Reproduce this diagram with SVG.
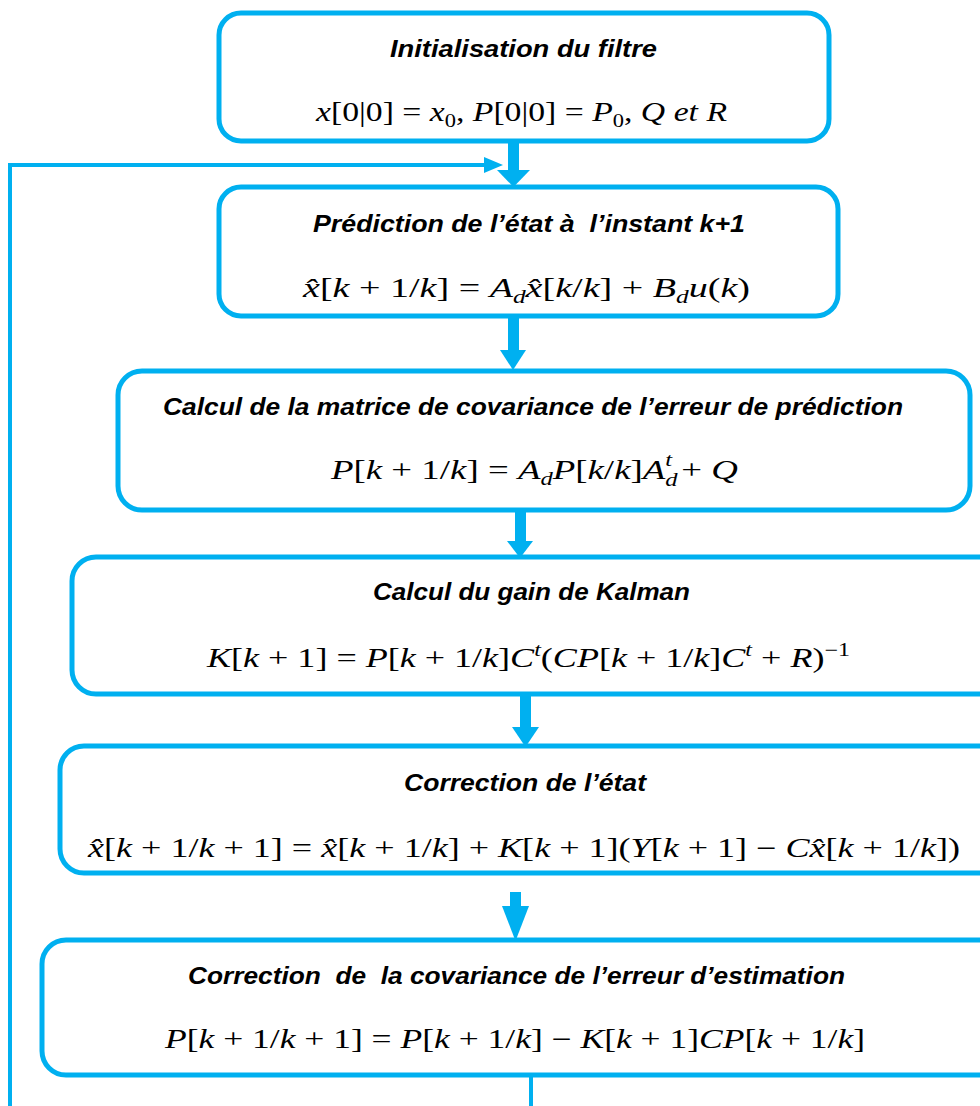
<svg xmlns="http://www.w3.org/2000/svg" width="980" height="1106" viewBox="0 0 980 1106">
<style>
.box{fill:#fff;stroke:#00B0F0;stroke-width:5}
.t{font-family:"Liberation Sans",Arial,sans-serif;font-weight:bold;font-style:italic;font-size:23px;fill:#000;white-space:pre}
.f{font-family:"Liberation Serif","Times New Roman",serif;font-size:27px;fill:#000}
.i{font-style:italic}
.s{font-size:18px;font-style:italic}
.sn{font-size:18px}
.ar{fill:#00B0F0}
.ln{stroke:#00B0F0;stroke-width:4;fill:none}
</style>
<rect width="980" height="1106" fill="#fff"/>
<g id="connectors">
<rect class="ar" x="508" y="141" width="11" height="30"/><polygon class="ar" points="497,170 530,170 513.5,187"/>
<rect class="ar" x="508" y="316" width="11" height="36"/><polygon class="ar" points="500,350 526,350 513,370"/>
<rect class="ar" x="515" y="510" width="11" height="33"/><polygon class="ar" points="507,541 533,541 520,558"/>
<rect class="ar" x="520" y="694" width="11" height="35"/><polygon class="ar" points="512,727 539,727 525.5,747"/>
<rect class="ar" x="510" y="892" width="11" height="16"/><polygon class="ar" points="502,906 529,906 515.5,941"/>
<polyline class="ln" points="531,1075 531,1106"/>
<polyline class="ln" points="10,1106 10,165 488,165"/>
<polygon class="ar" points="484,157 503,165 484,173"/>
</g>
<g id="n1">
<rect class="box" x="219" y="13" width="610" height="128" rx="22"/>
<text class="t" x="390" y="57" textLength="267" lengthAdjust="spacingAndGlyphs">Initialisation du filtre</text>
<text class="f" x="316" y="121" textLength="411" lengthAdjust="spacingAndGlyphs"><tspan class="i">x</tspan>[0|0] = <tspan class="i">x</tspan><tspan class="sn" dy="6">0</tspan><tspan dy="-6">, </tspan><tspan class="i">P</tspan>[0|0] = <tspan class="i">P</tspan><tspan class="sn" dy="6">0</tspan><tspan dy="-6">, </tspan><tspan class="i">Q et R</tspan></text>
</g>
<g id="n2">
<rect class="box" x="219" y="187" width="619" height="129" rx="22"/>
<text class="t" x="313" y="232" textLength="432" lengthAdjust="spacingAndGlyphs" xml:space="preserve">Prédiction de l’état à  l’instant k+1</text>
<text class="f" x="303" y="297" textLength="447" lengthAdjust="spacingAndGlyphs"><tspan class="i">x̂</tspan>[<tspan class="i">k</tspan> + 1/<tspan class="i">k</tspan>] = <tspan class="i">A</tspan><tspan class="s" dy="6">d</tspan><tspan class="i" dy="-6">x̂</tspan>[<tspan class="i">k</tspan>/<tspan class="i">k</tspan>] + <tspan class="i">B</tspan><tspan class="s" dy="6">d</tspan><tspan class="i" dy="-6">u</tspan>(<tspan class="i">k</tspan>)</text>
</g>
<g id="n3">
<rect class="box" x="118" y="371" width="852" height="139" rx="24"/>
<text class="t" x="163" y="415" textLength="740" lengthAdjust="spacingAndGlyphs">Calcul de la matrice de covariance de l’erreur de prédiction</text>
<text class="f" x="331" y="479" textLength="407" lengthAdjust="spacingAndGlyphs"><tspan class="i">P</tspan>[<tspan class="i">k</tspan> + 1/<tspan class="i">k</tspan>] = <tspan class="i">A</tspan><tspan class="s" dy="6">d</tspan><tspan class="i" dy="-6">P</tspan>[<tspan class="i">k</tspan>/<tspan class="i">k</tspan>]<tspan class="i">A</tspan><tspan class="s" dy="7">d</tspan><tspan class="s" dx="-9" dy="-20">t</tspan><tspan dy="13"> + </tspan><tspan class="i">Q</tspan></text>
</g>
<g id="n4">
<rect class="box" x="72" y="557" width="930" height="137" rx="24"/>
<text class="t" x="373" y="600" textLength="317" lengthAdjust="spacingAndGlyphs">Calcul du gain de Kalman</text>
<text class="f" x="207" y="667" textLength="643" lengthAdjust="spacingAndGlyphs"><tspan class="i">K</tspan>[<tspan class="i">k</tspan> + 1] = <tspan class="i">P</tspan>[<tspan class="i">k</tspan> + 1/<tspan class="i">k</tspan>]<tspan class="i">C</tspan><tspan class="s" dy="-11">t</tspan><tspan dy="11">(</tspan><tspan class="i">CP</tspan>[<tspan class="i">k</tspan> + 1/<tspan class="i">k</tspan>]<tspan class="i">C</tspan><tspan class="s" dy="-11">t</tspan><tspan dy="11"> + </tspan><tspan class="i">R</tspan>)<tspan class="sn" dy="-11">−1</tspan></text>
</g>
<g id="n5">
<rect class="box" x="60" y="746" width="942" height="127" rx="24"/>
<text class="t" x="404" y="791" textLength="242" lengthAdjust="spacingAndGlyphs">Correction de l’état</text>
<text class="f" x="88" y="857" textLength="872" lengthAdjust="spacingAndGlyphs"><tspan class="i">x̂</tspan>[<tspan class="i">k</tspan> + 1/<tspan class="i">k</tspan> + 1] = <tspan class="i">x̂</tspan>[<tspan class="i">k</tspan> + 1/<tspan class="i">k</tspan>] + <tspan class="i">K</tspan>[<tspan class="i">k</tspan> + 1](<tspan class="i">Y</tspan>[<tspan class="i">k</tspan> + 1] − <tspan class="i">Cx̂</tspan>[<tspan class="i">k</tspan> + 1/<tspan class="i">k</tspan>])</text>
</g>
<g id="n6">
<rect class="box" x="42" y="940" width="960" height="135" rx="24"/>
<text class="t" x="188" y="984" textLength="657" lengthAdjust="spacingAndGlyphs" xml:space="preserve">Correction  de  la covariance de l’erreur d’estimation</text>
<text class="f" x="165" y="1048" textLength="700" lengthAdjust="spacingAndGlyphs"><tspan class="i">P</tspan>[<tspan class="i">k</tspan> + 1/<tspan class="i">k</tspan> + 1] = <tspan class="i">P</tspan>[<tspan class="i">k</tspan> + 1/<tspan class="i">k</tspan>] − <tspan class="i">K</tspan>[<tspan class="i">k</tspan> + 1]<tspan class="i">CP</tspan>[<tspan class="i">k</tspan> + 1/<tspan class="i">k</tspan>]</text>
</g>
</svg>
